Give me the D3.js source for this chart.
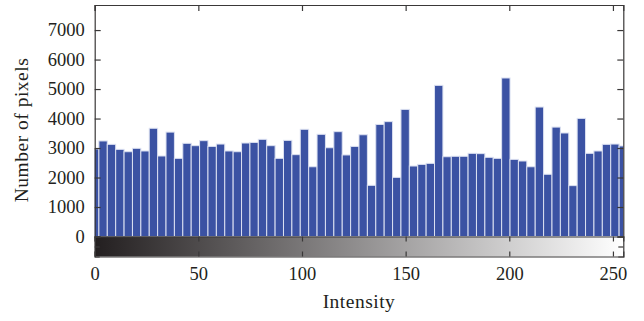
<!DOCTYPE html>
<html>
<head>
<meta charset="utf-8">
<script src="https://cdn.jsdelivr.net/npm/d3@7"></script>
<style>
  body { margin: 0; background: #fff; }
  svg { display: block; font-family: "Liberation Serif", "Times New Roman", serif; }
  .axis path, .axis line { stroke: #3a3838; stroke-width: 1.2; }
  .axis text { fill: #231f20; font-size: 18.5px; font-family: "Liberation Serif", serif; }
  .label { fill: #231f20; font-size: 19.5px; letter-spacing: 0.5px; }
</style>
</head>
<body>
<div id="chart"></div>
<script>
// histogram counts, 64 bins with centers spread evenly over 0..255
const counts = [
  2970, 3240, 3125, 2955, 2875, 2990, 2900, 3670, 2730, 3540,
  2650, 3160, 3080, 3250, 3055, 3135, 2900, 2875, 3170, 3190,
  3295, 3080, 2650, 3260, 2775, 3635, 2365, 3465, 3010, 3555,
  2765, 3055, 3450, 1735, 3800, 3895, 2005, 4310, 2390, 2445,
  2480, 5125, 2705, 2720, 2720, 2820, 2810, 2685, 2650, 5375,
  2615, 2560, 2365, 4390, 2110, 3710, 3510, 1725, 4005, 2820,
  2900, 3125, 3135, 3070
];
const xTicks = [0, 50, 100, 150, 200, 250];
const yTicks = [0, 1000, 2000, 3000, 4000, 5000, 6000, 7000];
const xLabel = 'Intensity';
const yLabel = 'Number of pixels';

const W = 644, H = 321;
const plotLeft = 94.7, plotRight = 623.3, plotTop = 5, base = 236.5, cbBottom = 256.5;

const binW = 255 / (counts.length - 1);
const bins = counts.map((c, i) => ({ center: i * binW, count: c }));

const x = d3.scaleLinear().domain([0, 255]).range([plotLeft, plotRight]);
const y = d3.scaleLinear().domain([0, 7850]).range([base, plotTop]);

const svg = d3.select('#chart').append('svg')
  .attr('width', W)
  .attr('height', H);

const defs = svg.append('defs');

// clip for the bars (first and last bins are cut by the axes)
defs.append('clipPath').attr('id', 'plotclip')
  .append('rect')
  .attr('x', plotLeft).attr('y', plotTop)
  .attr('width', plotRight - plotLeft).attr('height', base - plotTop);

svg.append('g')
  .attr('clip-path', 'url(#plotclip)')
  .selectAll('rect')
  .data(bins)
  .enter()
  .append('rect')
  .attr('x', d => x(d.center - binW / 2))
  .attr('y', d => y(d.count))
  .attr('width', d => x(binW) - x(0))
  .attr('height', d => y(0) - y(d.count))
  .style('fill', '#3b52a3')
  .style('stroke', '#dbe0f1')
  .style('stroke-width', 1);

// grayscale strip under the histogram
const grad = defs.append('linearGradient')
  .attr('id', 'gray').attr('x1', '0%').attr('x2', '100%');
grad.append('stop').attr('offset', '0%').attr('stop-color', '#231f20');
grad.append('stop').attr('offset', '100%').attr('stop-color', '#ffffff');

svg.append('rect')
  .attr('x', x(0)).attr('y', base)
  .attr('width', x(255) - x(0)).attr('height', cbBottom - base)
  .style('fill', 'url(#gray)');

// histogram box: left labelled axis, mirrored ticks elsewhere
svg.append('g')
  .attr('class', 'axis')
  .attr('transform', `translate(${plotLeft},0)`)
  .call(d3.axisLeft(y).tickValues(yTicks).tickSize(-6).tickPadding(10).tickFormat(d3.format('d')));

svg.append('g')
  .attr('class', 'axis')
  .attr('transform', `translate(${plotRight},0)`)
  .call(d3.axisRight(y).tickValues(yTicks).tickSize(-6).tickFormat(''));

svg.append('g')
  .attr('class', 'axis')
  .attr('transform', `translate(0,${plotTop})`)
  .call(d3.axisTop(x).tickValues(xTicks).tickSize(-6).tickFormat(''));

// strip box with ticks at top and bottom
svg.append('g')
  .attr('class', 'axis')
  .attr('transform', `translate(0,${base})`)
  .call(d3.axisBottom(x).tickValues(xTicks).tickSize(5).tickFormat(''));

svg.append('g')
  .attr('class', 'axis')
  .attr('transform', `translate(0,${cbBottom})`)
  .call(d3.axisBottom(x).tickValues(xTicks).tickSize(-5).tickPadding(10.5));

const cbY = d3.scaleLinear().domain([0, 1]).range([cbBottom, base]);
svg.append('g')
  .attr('class', 'axis')
  .attr('transform', `translate(${plotLeft},0)`)
  .call(d3.axisLeft(cbY).tickValues([0.5]).tickSize(-5).tickFormat(''));
svg.append('g')
  .attr('class', 'axis')
  .attr('transform', `translate(${plotRight},0)`)
  .call(d3.axisRight(cbY).tickValues([0.5]).tickSize(-5).tickFormat(''));

svg.selectAll('.axis path').style('fill', 'none');

// axis titles
svg.append('text')
  .attr('class', 'label')
  .attr('x', (plotLeft + plotRight) / 2)
  .attr('y', 308)
  .attr('text-anchor', 'middle')
  .text(xLabel);

svg.append('text')
  .attr('class', 'label')
  .attr('transform', 'translate(28,130) rotate(-90)')
  .attr('text-anchor', 'middle')
  .text(yLabel);
</script>
</body>
</html>
